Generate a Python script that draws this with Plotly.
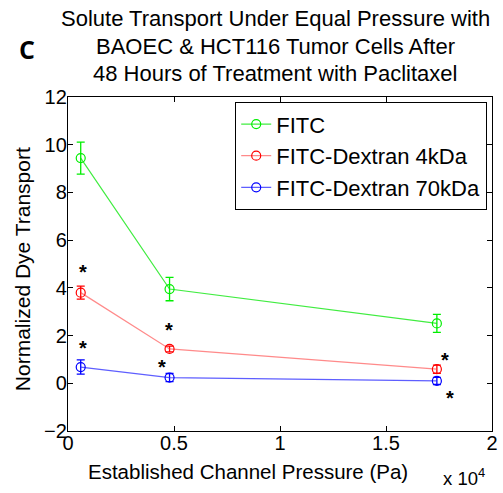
import plotly.graph_objects as go

pressure = [600, 4790, 17400]
fitc = [9.44, 3.95, 2.51]
fitc_err = [0.67, 0.49, 0.38]
dex4 = [3.80, 1.44, 0.59]
dex4_err = [0.27, 0.12, 0.17]
dex70 = [0.68, 0.24, 0.10]
dex70_err = [0.30, 0.17, 0.15]

star_x = [710, 710, 4780, 4440, 17770, 18000]
star_y = [4.89, 1.68, 2.44, 0.90, 1.19, -0.42]

x_ticks = [0, 5000, 10000, 15000, 20000]
x_ticklabels = ["0", "0.5", "1", "1.5", "2"]
y_ticks = [-2, 0, 2, 4, 6, 8, 10, 12]

FONT = "Liberation Sans, Arial, sans-serif"

fig = go.Figure()
series = [
    ("FITC", fitc, fitc_err, "#00ee00", "rgba(0,230,0,0.75)"),
    ("FITC-Dextran 4kDa", dex4, dex4_err, "#ff0000", "rgba(255,60,60,0.6)"),
    ("FITC-Dextran 70kDa", dex70, dex70_err, "#0000ff", "rgba(40,40,255,0.75)"),
]
for name, vals, errs, c, lc in series:
    fig.add_trace(go.Scatter(
        x=pressure, y=vals, name=name, mode="lines+markers",
        line=dict(color=lc, width=1.2),
        marker=dict(symbol="circle-open", size=9, color=c, line=dict(width=1.2, color=c)),
        error_y=dict(type="data", array=errs, visible=True, color=c, thickness=1.3, width=4),
    ))

for sx, sy in zip(star_x, star_y):
    fig.add_annotation(x=sx, y=sy, xref="x", yref="y", text="<b>*</b>", showarrow=False,
                       font=dict(family=FONT, size=20, color="black"), yshift=-5)

# Title lines
title_lines = ["Solute Transport Under Equal Pressure with",
               "BAOEC & HCT116 Tumor Cells After",
               "48 Hours of Treatment with Paclitaxel"]
for i, t in enumerate(title_lines):
    py = 18.5 + 27.5 * i
    fig.add_annotation(x=(278 - 68) / 430, y=(431 - py) / 334, xref="paper", yref="paper", text=t,
                       showarrow=False, xanchor="center", yanchor="middle",
                       font=dict(family=FONT, size=22, color="black"))

fig.add_annotation(x=(26 - 68) / 430, y=(431 - 49) / 334, xref="paper", yref="paper", text="<b>C</b>",
                   showarrow=False, xanchor="center", yanchor="middle",
                   font=dict(family="Open Sans, sans-serif", size=25, color="black"))

fig.add_annotation(x=(251 - 68) / 430, y=(431 - 471) / 334, xref="paper", yref="paper",
                   text="Established Channel Pressure (Pa)", showarrow=False,
                   xanchor="center", yanchor="middle", font=dict(family=FONT, size=20.5, color="black"))
fig.add_annotation(x=(22 - 68) / 430, y=(431 - 269.5) / 334, xref="paper", yref="paper",
                   text="Normalized Dye Transport", showarrow=False, textangle=-90,
                   xanchor="center", yanchor="middle", font=dict(family=FONT, size=21, color="black"))
fig.add_annotation(x=(470 - 68) / 430, y=(431 - 477) / 334, xref="paper", yref="paper",
                   text="x 10<sup>4</sup>", showarrow=False,
                   xanchor="center", yanchor="middle", font=dict(family=FONT, size=18.5, color="black"))

axis_common = dict(showline=True, linecolor="black", linewidth=1.3, mirror="allticks",
                   ticks="inside", ticklen=5, tickwidth=1, tickcolor="black",
                   showgrid=False, zeroline=False, ticklabeloverflow="allow",
                   tickfont=dict(family=FONT, size=20, color="black"))
fig.update_xaxes(range=[0, 20000], tickvals=x_ticks, ticktext=x_ticklabels,
                 ticklabelstandoff=-6, **axis_common)
fig.update_yaxes(range=[-2, 12], tickvals=y_ticks, ticklabelstandoff=-4, **axis_common)

fig.update_layout(
    width=503, height=493,
    margin=dict(l=68, r=5, t=97, b=62),
    paper_bgcolor="white", plot_bgcolor="white",
    showlegend=True,
    legend=dict(x=0.988, y=0.985, xanchor="right", yanchor="top",
                bordercolor="black", borderwidth=1.3, bgcolor="white",
                font=dict(family=FONT, size=22, color="black"),
                tracegroupgap=0, itemwidth=30),
)

fig.write_html("out.html")
